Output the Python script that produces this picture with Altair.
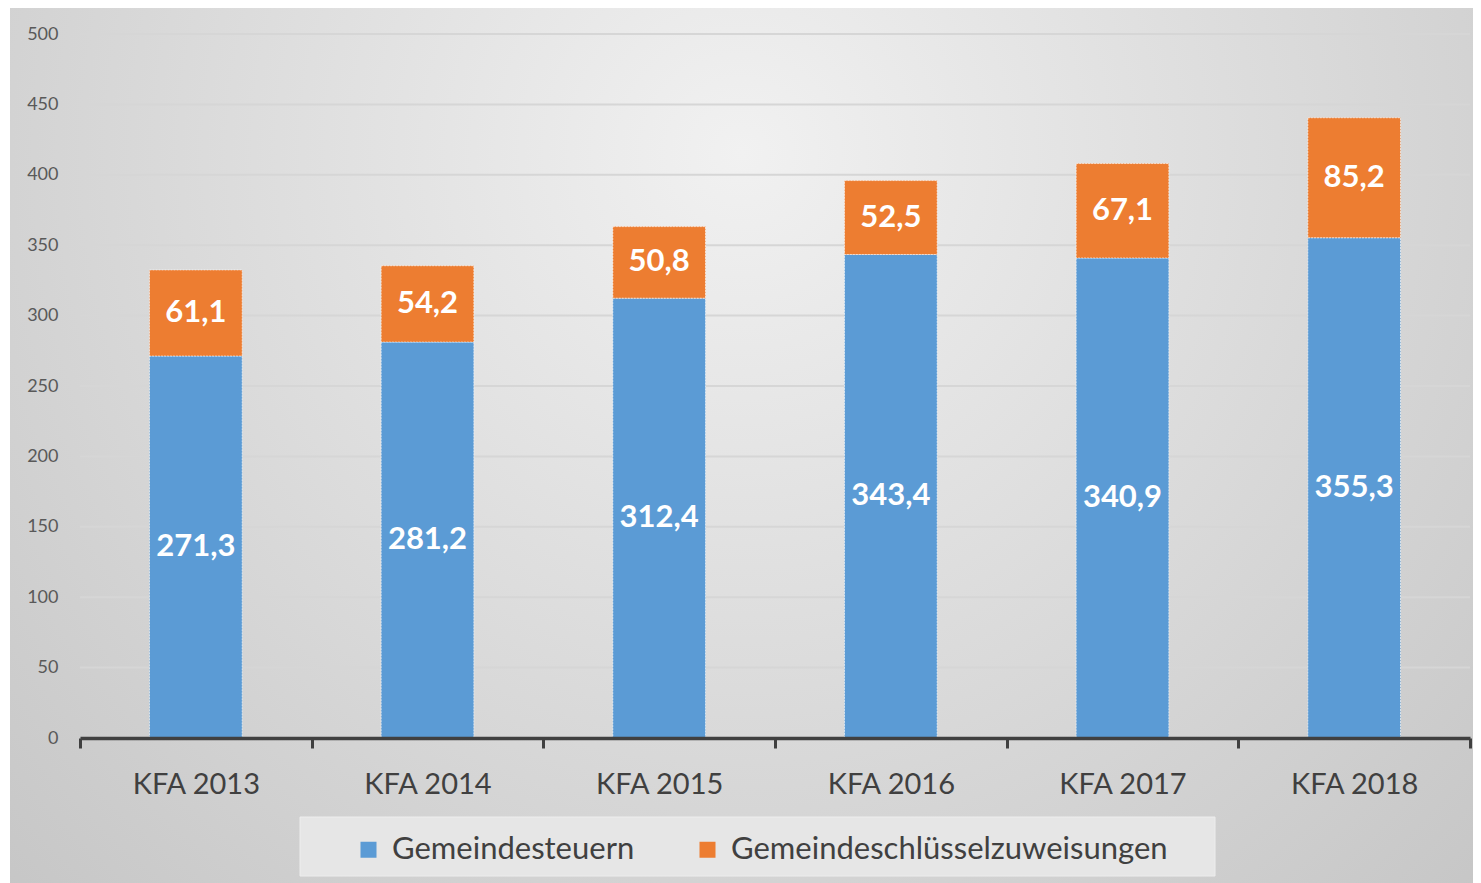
import altair as alt
import pandas as pd

categories = ["KFA 2013", "KFA 2014", "KFA 2015", "KFA 2016", "KFA 2017", "KFA 2018"]
gemeindesteuern = [271.3, 281.2, 312.4, 343.4, 340.9, 355.3]
schluesselzuweisungen = [61.1, 54.2, 50.8, 52.5, 67.1, 85.2]
series_names = ["Gemeindesteuern", "Gemeindeschlüsselzuweisungen"]
series_colors = ["#5b9bd5", "#ed7d31"]
y_ticks = [0, 50, 100, 150, 200, 250, 300, 350, 400, 450, 500]


def fmt(v):
    return f"{v:.1f}".replace(".", ",")


rows = []
for c, a, b in zip(categories, gemeindesteuern, schluesselzuweisungen):
    rows.append(dict(cat=c, series=series_names[0], y0=0.0, y1=a, mid=a / 2, label=fmt(a)))
    rows.append(dict(cat=c, series=series_names[1], y0=a, y1=a + b, mid=a + b / 2, label=fmt(b)))
df = pd.DataFrame(rows)
grid_df = pd.DataFrame({"v": y_ticks[1:]})

W, H = 1390, 704
PL, PT, PR, PB = 72, 26, 3, 145
FONT = "Lato"
TXT = "#404040"

y_scale = alt.Scale(domain=[0, 500], nice=False)
y_axis = alt.Axis(
    title=None, values=y_ticks, labelFontSize=18, labelFont=FONT,
    labelColor="#595959", domain=False, ticks=False, labelPadding=22,
    grid=False, zindex=1,
)
x_scale = alt.Scale(domain=categories, paddingInner=0, paddingOuter=0)

bg = alt.Chart(alt.Data(values=[{}])).mark_rect(
    fill={
        "gradient": "radial",
        "x1": 0.5, "y1": 0.3, "r1": 0.0,
        "x2": 0.5, "y2": 0.3, "r2": 0.75,
        "stops": [
            {"offset": 0.0, "color": "#f1f1f1"},
            {"offset": 1.0, "color": "#c4c4c4"},
        ],
    }
).encode(
    x=alt.value(-PL + 2), x2=alt.value(W + PR),
    y=alt.value(-PT), y2=alt.value(H + PB),
)

legend_box = alt.Chart(alt.Data(values=[{}])).mark_rect(
    fill="#e6e6e6", stroke="#ededed", strokeWidth=1
).encode(
    x=alt.value(220), x2=alt.value(1135),
    y=alt.value(783), y2=alt.value(842),
)

grid = alt.Chart(grid_df).mark_rule(color="#d6d6d6", strokeWidth=2).encode(
    y=alt.Y("v:Q", scale=y_scale, axis=y_axis),
)

x_enc = alt.X(
    "cat:N",
    sort=categories,
    scale=x_scale,
    axis=alt.Axis(
        title=None, labelAngle=0, labelFontSize=29, labelFont=FONT, labelColor=TXT,
        domainColor=TXT, domainWidth=3.5, tickColor=TXT, tickWidth=3, tickSize=10,
        tickBand="extent", labelPadding=22, grid=False, zindex=1,
    ),
)

bars = alt.Chart(df).mark_bar(
    width={"band": 0.4},
    stroke="white", strokeWidth=1, strokeOpacity=0.6, strokeDash=[2, 1],
).encode(
    x=x_enc,
    y=alt.Y("y1:Q", scale=y_scale, axis=y_axis),
    y2="y0:Q",
    color=alt.Color(
        "series:N",
        scale=alt.Scale(domain=series_names, range=series_colors),
        legend=alt.Legend(
            title=None, orient="none", legendX=273, legendY=800,
            direction="horizontal", symbolType="square", symbolSize=256,
            symbolStrokeWidth=0, symbolOpacity=1, labelFontSize=31, labelFont=FONT,
            labelColor=TXT, labelOffset=8, columnPadding=57, padding=0,
            labelLimit=600, zindex=1,
        ),
    ),
)

labels = alt.Chart(df).mark_text(
    color="white", fontSize=31, fontWeight="bold", font=FONT
).encode(
    x=alt.X("cat:N", sort=categories, scale=x_scale),
    y=alt.Y("mid:Q", scale=y_scale),
    text="label:N",
)

chart = alt.layer(bg, legend_box, grid, bars, labels).properties(
    width=W,
    height=H,
    padding={"left": PL, "top": PT, "right": PR, "bottom": PB},
    autosize=alt.AutoSizeParams(type="none"),
    background="white",
).configure_view(stroke=None)

chart.save("out.html", embed_options={"renderer": "svg", "actions": False})
